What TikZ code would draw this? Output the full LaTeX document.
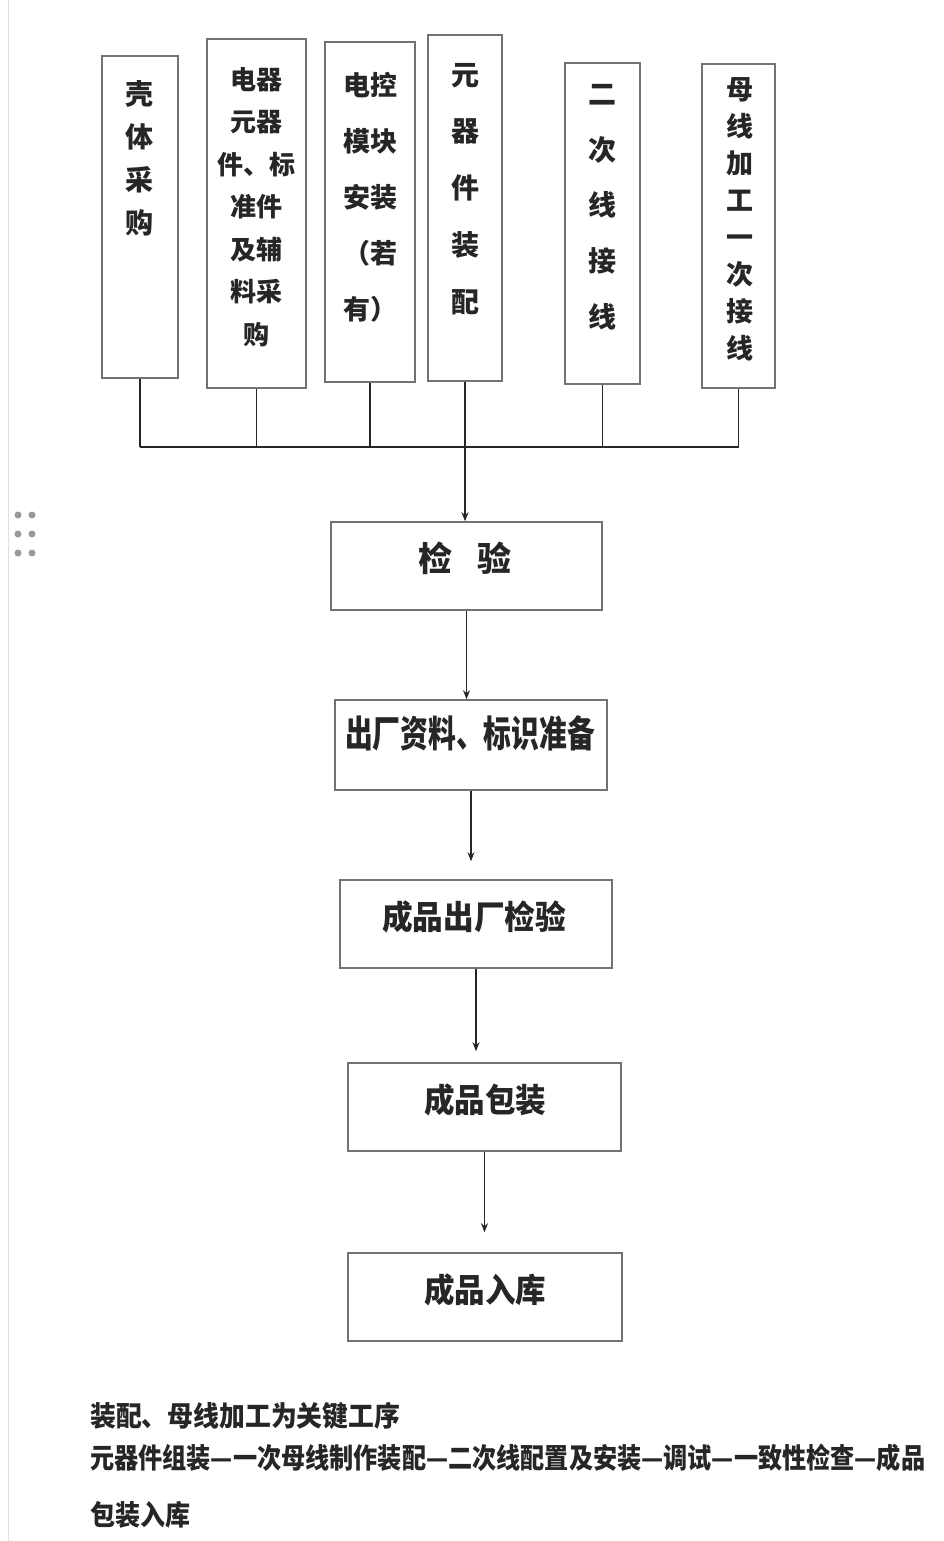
\documentclass[tikz,border=0pt]{standalone}
\usepackage{fontspec}
\usepackage{graphicx}
\newfontfamily\cjk{Noto Sans CJK SC}
\usetikzlibrary{arrows.meta}
\begin{document}
\begin{tikzpicture}[x=1pt,y=-1pt,
  box/.style={draw=black!55,line width=1.6pt,inner sep=0pt,fill=white},
  tt/.style={text=black!85,inner sep=0pt,align=center},
  ln/.style={draw=black!85,line width=1.8pt},
  arr/.style={ln,-{Stealth[length=9pt,width=7pt]}},
  dot/.style={fill=black!40}]
\fill[white] (0,0) rectangle (944,1541);
\useasboundingbox (0,0) rectangle (944,1541);
\draw[black!12,line width=1pt] (8,0) -- (8,1541);
% top boxes
\node[box,minimum width=76pt,minimum height=322pt] (b1) at (140,217) {};
\node[box,minimum width=99pt,minimum height=349pt] (b2) at (256.5,213.5) {};
\node[box,minimum width=90pt,minimum height=340pt] (b3) at (370,212) {};
\node[box,minimum width=74pt,minimum height=346pt] (b4) at (465,208) {};
\node[box,minimum width=75pt,minimum height=321pt] (b5) at (602.5,223.5) {};
\node[box,minimum width=73pt,minimum height=324pt] (b6) at (738.5,226) {};
\node[tt,anchor=north,font=\cjk\bfseries\fontsize{28}{43}\selectfont] (t1) at (139,80) {壳\\体\\采\\购};
\node[tt,anchor=north,font=\cjk\bfseries\fontsize{26}{42.5}\selectfont] (t2) at (256,67) {电器\\元器\\件、标\\准件\\及辅\\料采\\购};
\node[tt,anchor=north,font=\cjk\bfseries\fontsize{27}{56}\selectfont] (t3) at (370,72) {电控\\模块\\安装\\（若\\有）};
\node[tt,anchor=north,font=\cjk\bfseries\fontsize{28}{56.7}\selectfont] (t4) at (465,63) {元\\器\\件\\装\\配};
\node[tt,anchor=north,font=\cjk\bfseries\fontsize{28}{55.8}\selectfont] (t5) at (602,84) {二\\次\\线\\接\\线};
\node[tt,anchor=north,font=\cjk\bfseries\fontsize{27}{37.1}\selectfont] (t6) at (740,77) {母\\线\\加\\工\\一\\次\\接\\线};
% middle boxes
\node[box,minimum width=271pt,minimum height=88pt] (m1) at (466.5,566) {};
\node[box,minimum width=272pt,minimum height=90pt] (m2) at (471,745) {};
\node[box,minimum width=272pt,minimum height=88pt] (m3) at (476,924) {};
\node[box,minimum width=273pt,minimum height=88pt] (m4) at (484.5,1107) {};
\node[box,minimum width=274pt,minimum height=88pt] (m5) at (485,1297) {};
\node[tt,font=\cjk\bfseries\fontsize{34}{40}\selectfont] (s1) at (465,558) {检\hspace{26pt}验};
\node[tt,font=\cjk\bfseries\fontsize{37}{44}\selectfont] (s2) at (470,733) {\resizebox{250pt}{\height}{出厂资料、标识准备}};
\node[tt,font=\cjk\bfseries\fontsize{33}{40}\selectfont] (s3) at (474,917) {\resizebox{184pt}{\height}{成品出厂检验}};
\node[tt,font=\cjk\bfseries\fontsize{33}{40}\selectfont] (s4) at (485,1100) {\resizebox{122pt}{\height}{成品包装}};
\node[tt,font=\cjk\bfseries\fontsize{33}{40}\selectfont] (s5) at (485,1290) {\resizebox{122pt}{\height}{成品入库}};
% connectors
\coordinate (bus) at (465,447);
\foreach \b in {b1,b2,b3,b4,b5,b6} \draw[ln] (\b.south) -- (\b.south |- bus);
\draw[ln] (b1.south |- bus) -- (b6.south |- bus);
\draw[arr] (b4.south |- bus) -- (b4.south |- m1.north);
\draw[arr] (m1.south) -- (m1.south |- m2.north);
\draw[arr,shorten >=18pt] (m2.south) -- (m2.south |- m3.north);
\draw[arr,shorten >=11pt] (m3.south) -- (m3.south |- m4.north);
\draw[arr,shorten >=20pt] (m4.south) -- (m4.south |- m5.north);
% dots
\foreach \y in {515,534,553} {\fill[dot] (18,\y) circle (3.5pt); \fill[dot] (32,\y) circle (3.5pt);}
% bottom text
\node[tt,anchor=west,font=\cjk\bfseries\fontsize{28}{34}\selectfont] (n1) at (90,1416) {\resizebox{310pt}{\height}{装配、母线加工为关键工序}};
\node[tt,anchor=west,font=\cjk\bfseries\fontsize{28}{34}\selectfont] (n2) at (90,1458) {\resizebox{835pt}{\height}{元器件组装—一次母线制作装配—二次线配置及安装—调试—一致性检查—成品}};
\node[tt,anchor=west,font=\cjk\bfseries\fontsize{28}{34}\selectfont] (n3) at (90,1515) {\resizebox{100pt}{\height}{包装入库}};
\end{tikzpicture}
\end{document}
